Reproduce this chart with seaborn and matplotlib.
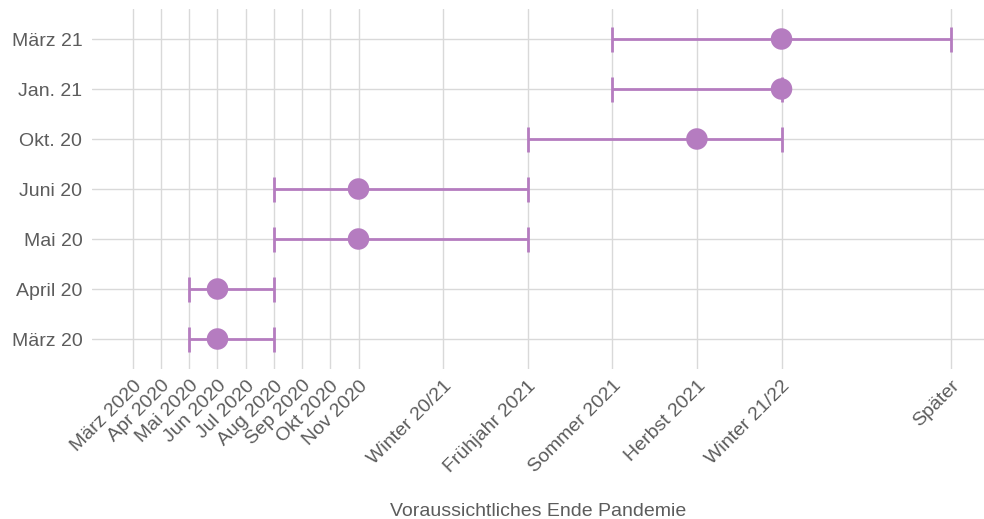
import numpy as np
import pandas as pd
import matplotlib
matplotlib.use("Agg")
import matplotlib.pyplot as plt
import seaborn as sns

# Survey waves (bottom to top)
waves = ["März 20", "April 20", "Mai 20", "Juni 20", "Okt. 20", "Jan. 21", "März 21"]

# Expected end of pandemic, on a month scale (März 2020 = 0)
median_end = [3, 3, 8, 8, 20, 23, 23]
lower_end = [2, 2, 5, 5, 14, 17, 17]
upper_end = [5, 5, 14, 14, 23, 23, 29]

# x axis categories and their positions
tick_labels = ["März 2020", "Apr 2020", "Mai 2020", "Jun 2020", "Jul 2020", "Aug 2020",
               "Sep 2020", "Okt 2020", "Nov 2020", "Winter 20/21", "Frühjahr 2021",
               "Sommer 2021", "Herbst 2021", "Winter 21/22", "Später"]
tick_pos = [0, 1, 2, 3, 4, 5, 6, 7, 8, 11, 14, 17, 20, 23, 29]

df = pd.DataFrame({"wave": waves, "median": median_end,
                   "low": lower_end, "high": upper_end})
df["y"] = np.arange(len(df))

sns.set_theme(style="whitegrid")
plt.rcParams["font.family"] = ["Liberation Sans", "DejaVu Sans"]

purple = "#b57cc0"
text_col = "#5c5c5c"

fig = plt.figure(figsize=(9.84, 5.19), dpi=100)
ax = fig.add_axes([92 / 984, 1 - 369 / 519, 1 - 92 / 984, 360 / 519])

ax.errorbar(df["median"], df["y"],
            xerr=[df["median"] - df["low"], df["high"] - df["median"]],
            fmt="none", ecolor=purple, elinewidth=2, capsize=9, capthick=2, zorder=3)
sns.scatterplot(data=df, x="median", y="y", color=purple, s=240,
                edgecolor="none", ax=ax, zorder=4)

ax.set_xlim(-1.45, 30.18)
ax.set_ylim(-0.6, len(waves) - 0.4)
ax.set_yticks(df["y"])
ax.set_yticklabels(waves)
ax.set_xticks(tick_pos)
ax.set_xticklabels(tick_labels, rotation=45, ha="right", rotation_mode="anchor")

ax.tick_params(axis="both", length=0, labelsize=14, labelcolor=text_col)
ax.tick_params(axis="y", pad=7)
ax.tick_params(axis="x", pad=6)
ax.grid(True, color="#d9d9d9", linewidth=1)
for s in ax.spines.values():
    s.set_visible(False)
ax.set_facecolor("white")

ax.set_ylabel("")
ax.set_xlabel("Voraussichtliches Ende Pandemie", fontsize=14, color=text_col, labelpad=19)

fig.savefig("out.png", dpi=100)
